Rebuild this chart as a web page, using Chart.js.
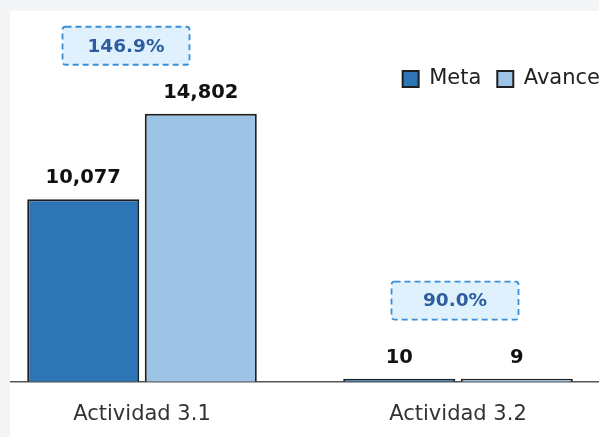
<!DOCTYPE html>
<html>
<head>
<meta charset="utf-8">
<script src="https://cdn.jsdelivr.net/npm/chart.js@4/dist/chart.umd.min.js"></script>
<style>
    html, body { margin: 0; padding: 0; background: #f3f5f7; overflow: hidden; }
    .panel { position: absolute; left: 10px; top: 11px; width: 589px; height: 426px; background: #fff; overflow: hidden; }
    .panel canvas { position: absolute; left: -26px; top: 0; }
</style>
</head>
<body>
<div class="panel">
    <canvas id="chart" width="632" height="428" style="width:632px;height:428px"></canvas>
</div>
<script>
const categories = ['Actividad 3.1', 'Actividad 3.2'];
const metaValues = [10077, 10];
const avanceValues = [14802, 9];
const seriesNames = ['Meta', 'Avance'];

const FONT = '"DejaVu Sans", Verdana, sans-serif';

// per category tweaks for the dashed percentage boxes (x nudge, height above tallest bar)
const boxOffsets = [{ dx: -16, up: 68 }, { dx: -3, up: 81 }];

const fmt = (v) => v.toLocaleString('en-US');

const labelsPlugin = {
    id: 'barLabels',
    afterDatasetsDraw(chart) {
        const ctx = chart.ctx;
        const yScale = chart.scales.y;
        const xScale = chart.scales.x;
        ctx.save();

        // value labels over each bar
        ctx.font = `bold 19.5px ${FONT}`;
        ctx.fillStyle = '#111';
        ctx.textAlign = 'center';
        ctx.textBaseline = 'middle';
        chart.data.datasets.forEach((ds, di) => {
            chart.getDatasetMeta(di).data.forEach((bar, i) => {
                ctx.fillText(fmt(ds.data[i]), bar.x, bar.y - 21);
            });
        });

        // percentage boxes
        categories.forEach((cat, i) => {
            const pct = (avanceValues[i] / metaValues[i] * 100).toFixed(1) + '%';
            const top = yScale.getPixelForValue(Math.max(metaValues[i], avanceValues[i]));
            const cx = xScale.getPixelForValue(i) + boxOffsets[i].dx;
            const cy = top - boxOffsets[i].up;
            const w = 127, h = 38;
            ctx.beginPath();
            ctx.roundRect(cx - w / 2, cy - h / 2, w, h, 3);
            ctx.fillStyle = '#def1fc';
            ctx.fill();
            ctx.setLineDash([6, 4]);
            ctx.lineWidth = 1.8;
            ctx.strokeStyle = '#3b8fd6';
            ctx.stroke();
            ctx.setLineDash([]);
            ctx.font = `bold 18.5px ${FONT}`;
            ctx.fillStyle = '#2d5d9f';
            ctx.fillText(pct, cx, cy + 1);
        });
        ctx.restore();
    }
};

new Chart(document.getElementById('chart').getContext('2d'), {
    type: 'bar',
    data: {
        labels: categories,
        datasets: [
            {
                label: seriesNames[0],
                data: metaValues,
                backgroundColor: '#2e75b6',
                borderColor: '#1f1f1f',
                borderWidth: 2,
                minBarLength: 3
            },
            {
                label: seriesNames[1],
                data: avanceValues,
                backgroundColor: '#9dc3e6',
                borderColor: '#1f1f1f',
                borderWidth: 2,
                minBarLength: 3
            }
        ]
    },
    options: {
        responsive: false,
        animation: false,
        categoryPercentage: 0.744,
        barPercentage: 0.953,
        layout: { padding: { top: 41.5, bottom: 0, left: 0, right: 0 } },
        plugins: {
            legend: {
                position: 'top',
                align: 'end',
                labels: {
                    font: { family: FONT, size: 21 },
                    color: '#222',
                    boxWidth: 16,
                    boxHeight: 16,
                    padding: 16
                }
            },
            tooltip: { enabled: false }
        },
        scales: {
            x: {
                grid: { display: false },
                border: { display: true, color: '#555', width: 1.5 },
                ticks: { font: { family: FONT, size: 21 }, color: '#333', padding: 12 }
            },
            y: {
                display: false,
                min: 0,
                max: 15590
            }
        }
    },
    plugins: [labelsPlugin]
});
</script>
</body>
</html>
